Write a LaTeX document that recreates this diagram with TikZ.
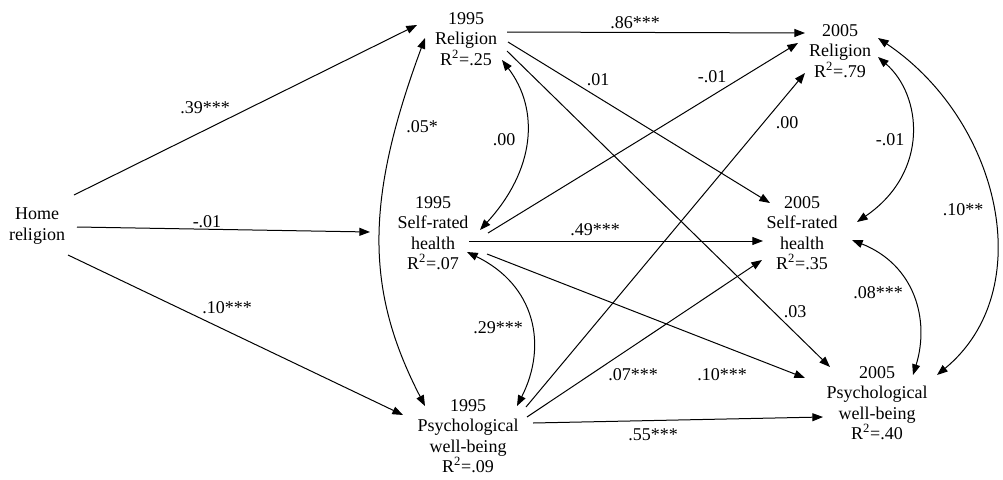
\documentclass[tikz,border=0pt]{standalone}
\usepackage{fontspec}
\setmainfont{Liberation Serif}
\usetikzlibrary{arrows.meta, calc}

\begin{document}
\begin{tikzpicture}[
    x=0.75pt, y=-0.75pt,
    var/.style={align=center, inner sep=0pt, font=\fontsize{13.5}{15.4}\selectfont},
    coef/.style={inner sep=1pt, font=\fontsize{13.5}{15.4}\selectfont},
    effect/.style={->, >={Triangle[length=8pt,width=6pt]}, line width=0.75pt},
    cov/.style={<->, >={Triangle[length=8pt,width=6pt]}, line width=0.75pt}
]
    \useasboundingbox (0,0) rectangle (1003,479);
    % variables
    \node[var] (home) at (37,226) {Home\\religion};
    \node[var] (r95) at (466,39) {1995\\Religion\\R\textsuperscript{2}=.25};
    \node[var] (sr95) at (433,233) {1995\\Self-rated\\health\\R\textsuperscript{2}=.07};
    \node[var] (p95) at (468,436) {1995\\Psychological\\well-being\\R\textsuperscript{2}=.09};
    \node[var] (r05) at (840,51) {2005\\Religion\\R\textsuperscript{2}=.79};
    \node[var] (sr05) at (802,233) {2005\\Self-rated\\health\\R\textsuperscript{2}=.35};
    \node[var] (p05) at (877,403) {2005\\Psychological\\well-being\\R\textsuperscript{2}=.40};
    % home religion paths
    \draw[effect] ($(home)+(37,-31)$) -- ($(r95)+(-49,-14)$);
    \draw[effect] ($(home)+(40,1)$) -- ($(sr95)+(-63,-1)$);
    \draw[effect] ($(home)+(31,29)$) -- ($(p95)+(-65,-21)$);
    \node[coef] (c1) at (205,108) {.39***};
    \node[coef] (c2) at (207,222) {-.01};
    \node[coef] (c3) at (227,308) {.10***};
    % 1995 covariances
    \draw[cov] ($(r95)+(-41,-1)$) .. controls +(-60,162) and +(-60,-116) .. ($(p95)+(-43,-30)$);
    \draw[cov] ($(r95)+(36,21)$) .. controls +(38,50) and +(55,-60) .. ($(sr95)+(47,-3)$);
    \draw[cov] ($(sr95)+(34,19)$) .. controls +(68,33) and +(31,-61) .. ($(p95)+(49,-30)$);
    \node[coef] (c4) at (422,127) {.05*};
    \node[coef] (c5) at (504,140) {.00};
    \node[coef] (c6) at (498,328) {.29***};
    % 1995 to 2005
    \draw[effect] ($(r95)+(41,-7)$) -- ($(r05)+(-35,-18)$);
    \draw[effect] ($(r95)+(42,3)$) -- ($(sr05)+(-32,-30)$);
    \draw[effect] ($(r95)+(41,12)$) -- ($(p05)+(-47,-36)$);
    \draw[effect] ($(sr95)+(55,0)$) -- ($(r05)+(-42,-8)$);
    \draw[effect] ($(sr95)+(36,8)$) -- ($(sr05)+(-39,8)$);
    \draw[effect] ($(sr95)+(54,21)$) -- ($(p05)+(-72,-25)$);
    \draw[effect] ($(p95)+(58,-29)$) -- ($(r05)+(-35,22)$);
    \draw[effect] ($(p95)+(59,-19)$) -- ($(sr05)+(-40,27)$);
    \draw[effect] ($(p95)+(65,-13)$) -- ($(p05)+(-54,14)$);
    \node[coef] (c7) at (635,23) {.86***};
    \node[coef] (c8) at (598,80) {.01};
    \node[coef] (c9) at (795,312) {.03};
    \node[coef] (c10) at (712,77) {-.01};
    \node[coef] (c11) at (595,230) {.49***};
    \node[coef] (c12) at (722,375) {.10***};
    \node[coef] (c13) at (787,123) {.00};
    \node[coef] (c14) at (633,375) {.07***};
    \node[coef] (c15) at (653,435) {.55***};
    % 2005 covariances
    \draw[cov] ($(r05)+(38,6)$) .. controls +(44,38) and +(73,-50) .. ($(sr05)+(55,-11)$);
    \draw[cov] ($(sr05)+(50,7)$) .. controls +(63,25) and +(17,-55) .. ($(p05)+(36,-28)$);
    \draw[cov] ($(r05)+(38,-13)$) .. controls +(122,82) and +(103,-85) .. ($(p05)+(60,-28)$);
    \node[coef] (c16) at (890,140) {-.01};
    \node[coef] (c17) at (878,293) {.08***};
    \node[coef] (c18) at (963,210) {.10**};
\end{tikzpicture}
\end{document}
